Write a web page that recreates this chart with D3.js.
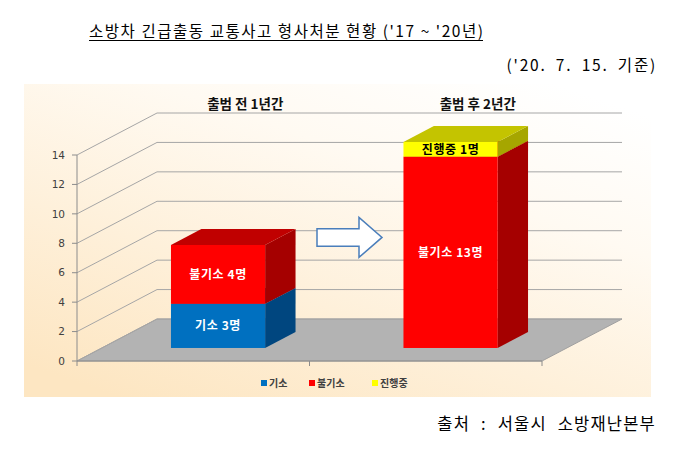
<!DOCTYPE html>
<html><head><meta charset="utf-8">
<script src="https://cdn.jsdelivr.net/npm/d3@7"></script>
<style>
html,body{margin:0;padding:0;background:#fff;}
svg{display:block;}
</style></head>
<body>
<svg id="c" width="682" height="449"></svg>
<script>
// ---- data ----
const categories = ["출범 전 1년간", "출범 후 2년간"];
const seriesNames = ["기소", "불기소", "진행중"];
const giso = [3, 0];
const bulgiso = [4, 13];
const jinhaeng = [0, 1];
const tickValues = [0, 2, 4, 6, 8, 10, 12, 14];
const titleText = "소방차 긴급출동 교통사고 형사처분 현황 ('17 ~ '20년)";
const dateText = "('20. 7. 15. 기준)";
const sourceText = "출처 : 서울시 소방재난본부";

const seriesValues = [giso, bulgiso, jinhaeng];
const colors = [
  {front:"#0070c0", top:"#00569a", side:"#00467f", text:"#ffffff"},
  {front:"#ff0000", top:"#c00000", side:"#a50000", text:"#ffffff"},
  {front:"#ffff00", top:"#c4c400", side:"#a6a600", text:"#000000"}
];

const svg = d3.select("#c");
const FONT = "'Noto Sans CJK KR','Noto Sans',sans-serif";

// ---- scales & 3D projection ----
const x = d3.scaleBand().domain(categories).range([77, 542]).padding(0);
const y = d3.scaleLinear().domain([0, 14]).range([361, 155]);
const DX = 80, DY = -42;           // depth offset of back wall
const z0 = 0.31, z1 = 0.69;        // bar depth range
const barFrac = 0.405;
const P = (px, v, z) => [px + DX * z, y(v) + DY * z];

// ---- background panel ----
const defs = svg.append("defs");
const g = defs.append("linearGradient").attr("id","bg")
  .attr("x1","0.85").attr("y1","0").attr("x2","0.15").attr("y2","1");
g.append("stop").attr("offset","0").attr("stop-color","#ffffff");
g.append("stop").attr("offset","0.3").attr("stop-color","#fffaf2");
g.append("stop").attr("offset","1").attr("stop-color","#fde6c2");
svg.append("rect").attr("x",24).attr("y",84).attr("width",627).attr("height",313)
  .attr("fill","url(#bg)");

// ---- floor ----
const [xa, xb] = x.range();
const floor = [P(xa,0,0), P(xb,0,0), P(xb,0,1), P(xa,0,1)];
svg.append("polygon").attr("points", floor.map(p=>p.join(",")).join(" "))
  .attr("fill","#b3b3b3").attr("stroke","#a0a0a0").attr("stroke-width",1);

// ---- gridlines (side wall + back wall) ----
const grid = svg.append("g").attr("stroke","#a6a6a6").attr("stroke-width",1).attr("fill","none");
tickValues.forEach(v => {
  const a = P(xa, v, 0), b = P(xa, v, 1), c = P(xb, v, 1);
  grid.append("polyline").attr("points", [a,b,c].map(p=>p.join(",")).join(" "));
});

// ---- front axis ----
const ax = svg.append("g").attr("stroke","#8c8c8c").attr("stroke-width",1);
ax.append("line").attr("x1",xa).attr("x2",xa).attr("y1",y(0)).attr("y2",y(14));
ax.append("line").attr("x1",xa).attr("x2",xb).attr("y1",y(0)).attr("y2",y(0));
tickValues.forEach(v=>{
  ax.append("line").attr("x1",xa-5).attr("x2",xa).attr("y1",y(v)).attr("y2",y(v));
});
const catEdges = [xa, ...categories.map(c=>x(c)+x.bandwidth())];
catEdges.forEach(e=>{
  ax.append("line").attr("x1",e).attr("x2",e).attr("y1",y(0)).attr("y2",y(0)+5);
});
svg.append("g").selectAll("text").data(tickValues).join("text")
  .attr("x", xa-12).attr("y", d=>y(d)).attr("dy","0.36em")
  .attr("text-anchor","end").attr("font-family","'DejaVu Sans',Verdana,sans-serif")
  .attr("font-size",10.5).attr("fill","#404040").text(d=>d);

// ---- bars ----
const bars = svg.append("g");
const pts = arr => arr.map(p=>p.join(",")).join(" ");
categories.forEach((cat, ci) => {
  const bw = x.bandwidth()*barFrac;
  const x0 = x(cat) + (x.bandwidth()-bw)/2, x1 = x0 + bw;
  let base = 0;
  const segs = [];
  seriesValues.forEach((vals, si) => {
    const v = vals[ci];
    if (v > 0) { segs.push({si, lo: base, hi: base+v, v}); base += v; }
  });
  segs.forEach((s, k) => {
    const c = colors[s.si];
    bars.append("polygon").attr("points", pts([P(x1,s.lo,z0),P(x1,s.lo,z1),P(x1,s.hi,z1),P(x1,s.hi,z0)]))
      .attr("fill", c.side);
    bars.append("polygon").attr("points", pts([P(x0,s.hi,z0),P(x1,s.hi,z0),P(x1,s.hi,z1),P(x0,s.hi,z1)]))
      .attr("fill", c.top);
    const f0 = P(x0,s.hi,z0), f1 = P(x1,s.lo,z0);
    bars.append("rect").attr("x",f0[0]).attr("y",f0[1]).attr("width",f1[0]-f0[0]).attr("height",f1[1]-f0[1])
      .attr("fill", c.front);
  });
  segs.forEach(s => {
    const c = colors[s.si];
    const m = P((x0+x1)/2, (s.lo+s.hi)/2, z0);
    bars.append("text").attr("x",m[0]).attr("y",m[1]).attr("dy","0.36em")
      .attr("text-anchor","middle").attr("font-family",FONT).attr("font-weight","bold")
      .attr("font-size",12).attr("letter-spacing",0.6).attr("fill",c.text)
      .text(`${seriesNames[s.si]} ${s.v}명`);
  });
  svg.append("text").attr("x", (x0+x1)/2 + DX*(z0+z1)/2 + 12).attr("y", 109)
    .attr("text-anchor","middle").attr("font-family",FONT).attr("font-weight","bold")
    .attr("font-size",13.5).attr("fill","#111").text(cat);
});

// ---- arrow between bars ----
(function(){
  const bw = x.bandwidth()*barFrac;
  const leftEnd = x(categories[0]) + (x.bandwidth()+bw)/2 + DX*z1;
  const rightStart = x(categories[1]) + (x.bandwidth()-bw)/2 + DX*z0;
  const cx = (leftEnd+rightStart)/2, cy = y(8.4);
  const L = 65, bodyH = 17.5, headH = 40, headL = 23;
  const xl = cx - L/2, xr = cx + L/2, xh = xr - headL;
  const arrow = [[xl,cy-bodyH/2],[xh,cy-bodyH/2],[xh,cy-headH/2],[xr,cy],[xh,cy+headH/2],[xh,cy+bodyH/2],[xl,cy+bodyH/2]];
  svg.append("polygon").attr("points",pts(arrow)).attr("fill","#ffffff")
    .attr("stroke","#4a7ebb").attr("stroke-width",1.5);
})();

// ---- legend ----
const lg = svg.append("g").attr("font-family",FONT).attr("font-weight","bold").attr("font-size",10).attr("fill","#404040");
const legendX = [261, 309, 372];
seriesNames.forEach((n,i)=>{
  lg.append("rect").attr("x",legendX[i]).attr("y",380).attr("width",6).attr("height",6).attr("fill",colors[i].front);
  lg.append("text").attr("x",legendX[i]+8).attr("y",383).attr("dy","0.36em").text(n);
});

// ---- titles ----
svg.append("text").attr("x",89).attr("y",37).attr("font-family",FONT).attr("font-size",15.5)
  .attr("fill","#000").attr("textLength",394).attr("lengthAdjust","spacing").text(titleText);
svg.append("line").attr("x1",89).attr("x2",483).attr("y1",40.5).attr("y2",40.5).attr("stroke","#000").attr("stroke-width",1);
svg.append("text").attr("x",657).attr("y",71).attr("text-anchor","end").attr("font-family",FONT)
  .attr("font-size",15.5).attr("word-spacing",4).attr("letter-spacing",1.8).attr("fill","#000").text(dateText);
svg.append("text").attr("x",656).attr("y",430).attr("text-anchor","end").attr("font-family",FONT)
  .attr("font-size",16.5).attr("word-spacing",6).attr("letter-spacing",1.2).attr("fill","#000").text(sourceText);
</script>
</body></html>
